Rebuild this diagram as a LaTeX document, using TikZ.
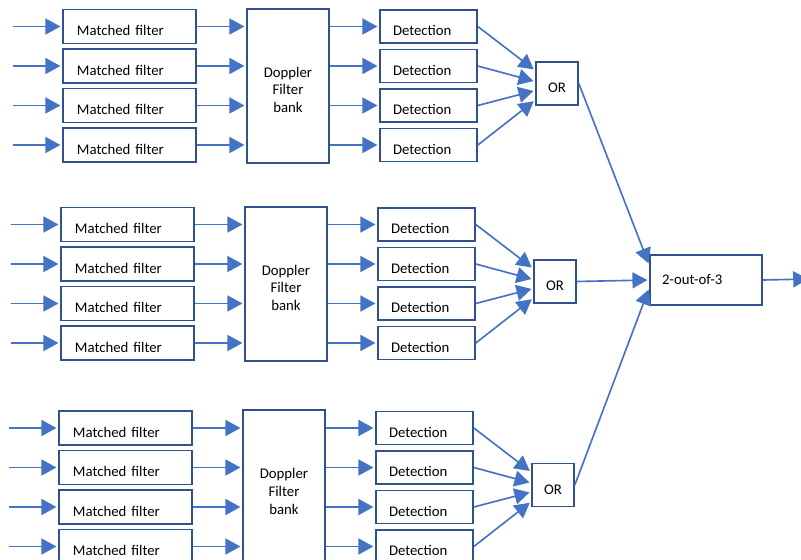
\documentclass[tikz,border=0pt]{standalone}
\usepackage{fontspec}
\setmainfont{Carlito}
\usepackage{tikz}
\usetikzlibrary{positioning,calc}
\usepgflibrary{arrows.meta}
\definecolor{lineblue}{HTML}{4472C4}
\definecolor{edgeblue}{HTML}{2F528F}

\begin{document}
\begin{tikzpicture}
    [x=0.03cm, y=-0.03cm,
    font=\fontsize{12.6}{15}\selectfont,
    arr/.style={draw=lineblue, line width=1.4pt, shorten >=1.5pt, -{Triangle[length=0.45cm, width=0.48cm]}},
    box/.style={draw=edgeblue, line width=1.4pt, inner ysep=0pt, text height=16pt, text depth=0pt},
    mfbox/.style={box, inner xsep=0.42cm, text width=3.15cm, align=left, minimum height=1.02cm},
    detbox/.style={box, inner xsep=0.39cm, text width=2.13cm, align=left, minimum height=0.99cm},
    orbox/.style={box, minimum width=1.26cm, minimum height=1.29cm},
    dopbox/.style={draw=edgeblue, line width=1.4pt, minimum width=2.46cm, minimum height=4.62cm}]
        \useasboundingbox (0,0) rectangle (801,560);
        \clip (0,0) rectangle (801,560);

        %% three channels
        \foreach \g/\Y/\dx in {1/26.5/0, 2/224.5/-2, 3/428/-4} {
            \node[dopbox, label={[align=center, yshift=-0.125cm]center:Doppler\\Filter\\bank}] (dop\g) at (288+\dx, \Y+59.25) {};
            \node[orbox] (or\g) at (557+\dx, \Y+57) {OR};
            \foreach \r in {0,...,3} {
                \coordinate (in\g\r) at (13+\dx, \Y+39.5*\r);
                \node[mfbox] (mf\g\r) at (129.5+\dx, \Y+39.5*\r) {Matched filter};
                \node[detbox] (det\g\r) at (428.5+\dx, \Y+39.5*\r) {Detection};

                \draw[arr] (in\g\r) -- (mf\g\r.west);
                \draw[arr] (mf\g\r.east) -- (mf\g\r.east -| dop\g.west);
                \draw[arr] (dop\g.east |- det\g\r.west) -- (det\g\r.west);
            }
            \foreach \r/\s in {0/0.39, 1/0.06, 2/-0.21, 3/-0.5}
                \draw[arr] (det\g\r.east) -- ([yshift=\s cm]or\g.west);
        }

        %% vote
        \node[box, text height=8.5pt, inner xsep=0.36cm, text width=2.64cm, align=left, minimum height=1.5cm] (vote) at (706,280) {2-out-of-3};
        \coordinate (out) at (810,279);

        \draw[arr] (or1.east) -- ([yshift=0.45cm]vote.west);
        \draw[arr] (or2.east) -- (vote.west);
        \draw[arr] (or3.east) -- ([yshift=-0.24cm]vote.west);
        \draw[arr] (vote.east) -- (out);
\end{tikzpicture}
\end{document}
